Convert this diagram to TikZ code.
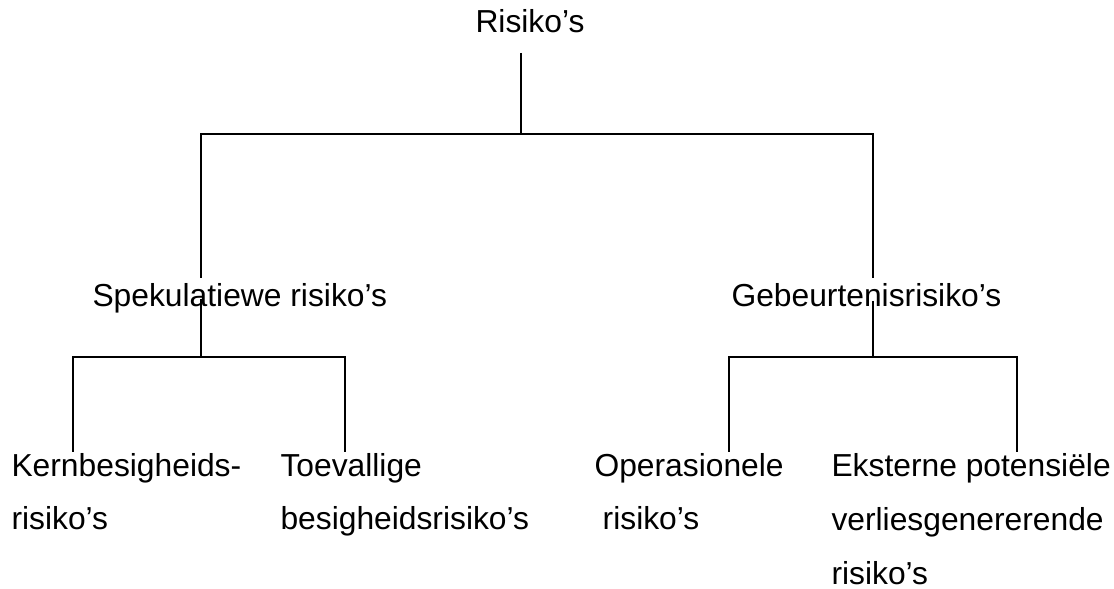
\documentclass[tikz,border=0pt]{standalone}
\usepackage{fontspec}
\setmainfont{Liberation Sans}
\usetikzlibrary{positioning, calc}
\tikzstyle{label} = [inner sep=0pt, anchor=base west, align=left, font=\fontsize{12.4}{21.06}\selectfont]
\tikzstyle{branch} = [line width=0.5pt, black]

\begin{document}
\begin{tikzpicture}[x=0.39pt, y=-0.39pt]
            \useasboundingbox (0,0) rectangle (1114,589);
            \node[label] (top-1) at (475,33) {Risiko's};

            \node[label] (mid-1) at (92,307) {Spekulatiewe risiko's};
            \node[label] (mid-2) at (731,307) {Gebeurtenisrisiko's};

            % base of a multi-line label = base of its last line
            \node[label] (bot-1) at (11,530) {Kernbesigheids-\\risiko's};
            \node[label] (bot-2) at (280,530) {Toevallige\\besigheidsrisiko's};
            \node[label] (bot-3) at (594,530) {Operasionele\\\hspace*{3.2pt}risiko's};
            \node[label] (bot-4) at (831,584) {Eksterne potensi\"ele\\verliesgenererende\\risiko's};

            \coordinate (top-1-end) at (521,53);
            \coordinate (bar-1) at (521,134);
            \coordinate (mid-1-top) at (201,134);
            \coordinate (mid-2-top) at (873,134);
            \coordinate (mid-1-in) at (201,278);
            \coordinate (mid-2-in) at (873,278);
            \coordinate (mid-1-out) at (201,299);
            \coordinate (mid-2-out) at (873,301);
            \coordinate (mid-1-end) at (201,357);
            \coordinate (mid-2-end) at (873,357);

            \coordinate (bot-1-top) at (73,357);
            \coordinate (bot-2-top) at (345,357);
            \coordinate (bot-3-top) at (729,357);
            \coordinate (bot-4-top) at (1017,357);
            \coordinate (bot-1-end) at (73,452);
            \coordinate (bot-2-end) at (345,452);
            \coordinate (bot-3-end) at (729,452);
            \coordinate (bot-4-end) at (1017,452);

            \draw[branch] (top-1-end) -- (bar-1);
            \draw[branch] (mid-1-in) -- (mid-1-top) -- (mid-2-top) -- (mid-2-in);
            \draw[branch] (mid-1-out) -- (mid-1-end);
            \draw[branch] (mid-2-out) -- (mid-2-end);
            \draw[branch] (bot-1-end) -- (bot-1-top) -- (bot-2-top) -- (bot-2-end);
            \draw[branch] (bot-3-end) -- (bot-3-top) -- (bot-4-top) -- (bot-4-end);

        \end{tikzpicture}
\end{document}
